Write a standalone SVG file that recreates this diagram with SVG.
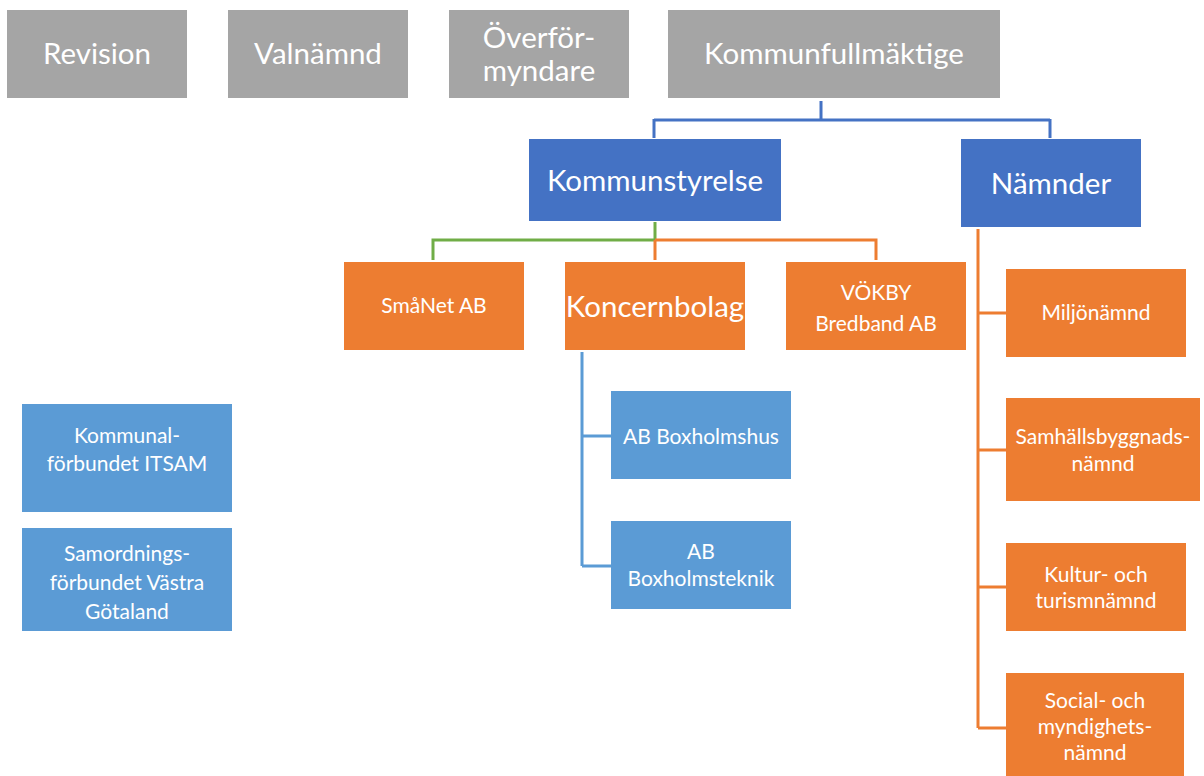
<svg xmlns="http://www.w3.org/2000/svg" width="1204" height="776" viewBox="0 0 1204 776">
<style>
text{font-family:Lato,"Open Sans","Liberation Sans",sans-serif;fill:#fff;text-anchor:middle}
.g{fill:#A5A5A5}.b{fill:#4472C4}.o{fill:#ED7D31}.lb{fill:#5B9BD5}
.big{font-size:29.5px}.mid{font-size:29.5px}.sm{font-size:21px}
.c{fill:none;stroke-width:3}
</style>
<rect width="1204" height="776" fill="#fff"/>
<g id="connectors">
<path class="c" stroke="#4472C4" d="M821 101V120M654 120H1050M654 119V138M1050 119V138"/>
<path class="c" stroke="#70AD47" d="M655 222V240M655 240H433V260"/>
<path class="c" stroke="#ED7D31" d="M655 240H876V260M655 240V260"/>
<path class="c" stroke="#5B9BD5" d="M582 352V566M582 436H611M582 566H611"/>
<path class="c" stroke="#ED7D31" d="M978 229V728M978 313H1006M978 450H1006M978 587H1006M978 728H1006"/>
</g>
<g id="revision"><rect class="g" x="7" y="10" width="180" height="88"/><text class="big" x="97" y="64">Revision</text></g>
<g id="valnamnd"><rect class="g" x="228" y="10" width="180" height="88"/><text class="big" x="318" y="64">Valnämnd</text></g>
<g id="overformyndare"><rect class="g" x="449" y="10" width="180" height="88"/><text class="big" x="539" y="48">Överför-</text><text class="big" x="539" y="81">myndare</text></g>
<g id="kommunfullmaktige"><rect class="g" x="668" y="10" width="332" height="88"/><text class="big" x="834" y="64">Kommunfullmäktige</text></g>
<g id="kommunstyrelse"><rect class="b" x="529" y="139" width="252" height="82"/><text class="mid" x="655" y="191">Kommunstyrelse</text></g>
<g id="namnder"><rect class="b" x="961" y="139" width="180" height="88"/><text class="mid" x="1051" y="194">Nämnder</text></g>
<g id="smanet"><rect class="o" x="344" y="262" width="180" height="88"/><text class="sm" x="434" y="313">SmåNet AB</text></g>
<g id="koncernbolag"><rect class="o" x="565" y="262" width="180" height="88"/><text class="mid" x="655" y="317">Koncernbolag</text></g>
<g id="vokby"><rect class="o" x="786" y="262" width="180" height="88"/><text class="sm" x="876" y="300">VÖKBY</text><text class="sm" x="876" y="331">Bredband AB</text></g>
<g id="boxholmshus"><rect class="lb" x="611" y="391" width="180" height="88"/><text class="sm" x="701" y="444">AB Boxholmshus</text></g>
<g id="boxholmsteknik"><rect class="lb" x="611" y="521" width="180" height="88"/><text class="sm" x="701" y="559">AB</text><text class="sm" x="701" y="586">Boxholmsteknik</text></g>
<g id="miljonamnd"><rect class="o" x="1006" y="269" width="180" height="88"/><text class="sm" x="1096" y="320">Miljönämnd</text></g>
<g id="samhallsbyggnadsnamnd"><rect class="o" x="1006" y="398" width="194" height="103"/><text class="sm" x="1103" y="444">Samhällsbyggnads-</text><text class="sm" x="1103" y="471">nämnd</text></g>
<g id="kulturnamnd"><rect class="o" x="1006" y="543" width="180" height="88"/><text class="sm" x="1096" y="582">Kultur- och</text><text class="sm" x="1096" y="608">turismnämnd</text></g>
<g id="socialnamnd"><rect class="o" x="1006" y="673" width="178" height="103"/><text class="sm" x="1095" y="708">Social- och</text><text class="sm" x="1095" y="734">myndighets-</text><text class="sm" x="1095" y="760">nämnd</text></g>
<g id="itsam"><rect class="lb" x="22" y="404" width="210" height="108"/><text class="sm" x="127" y="443">Kommunal-</text><text class="sm" x="127" y="471">förbundet ITSAM</text></g>
<g id="samordningsforbundet"><rect class="lb" x="22" y="528" width="210" height="103"/><text class="sm" x="127" y="561">Samordnings-</text><text class="sm" x="127" y="590">förbundet Västra</text><text class="sm" x="127" y="619">Götaland</text></g>
</svg>
